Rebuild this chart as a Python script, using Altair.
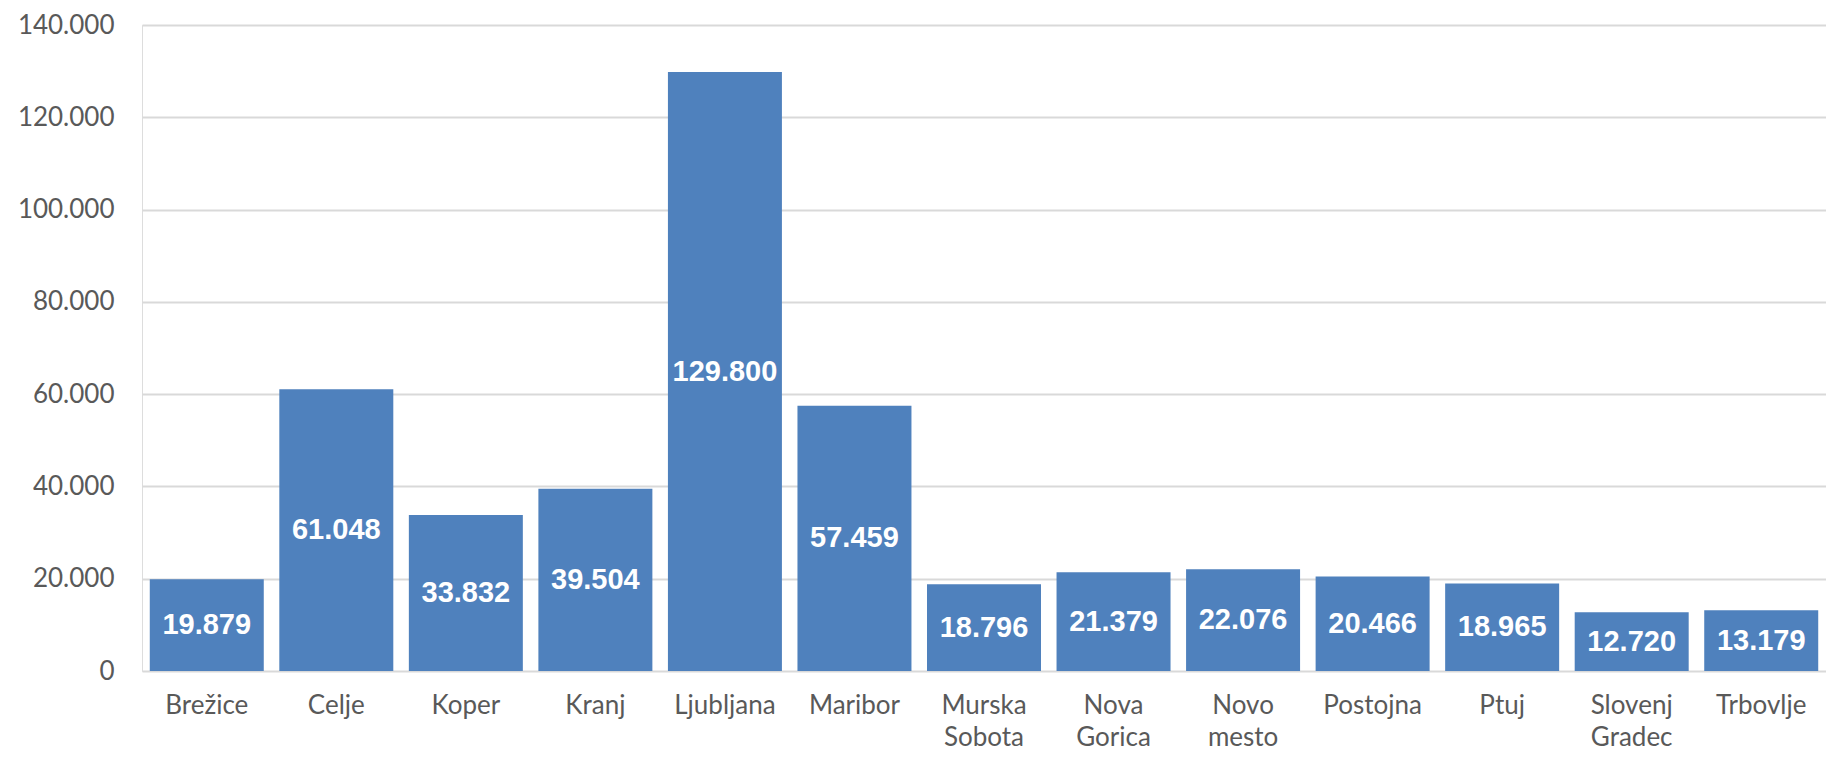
import altair as alt
import pandas as pd

cities = ["Brežice", "Celje", "Koper", "Kranj", "Ljubljana", "Maribor",
          "Murska Sobota", "Nova Gorica", "Novo mesto", "Postojna", "Ptuj",
          "Slovenj Gradec", "Trbovlje"]
values = [19879, 61048, 33832, 39504, 129800, 57459, 18796, 21379, 22076,
          20466, 18965, 12720, 13179]
y_ticks = [0, 20000, 40000, 60000, 80000, 100000, 120000, 140000]

df = pd.DataFrame({"city": cities, "value": values})

x = alt.X("city:N", sort=cities, title=None,
          scale=alt.Scale(paddingInner=0.12, paddingOuter=0.06),
          axis=alt.Axis(labelAngle=0, labelFont="Lato", labelFontSize=26,
                        labelColor="#595959", ticks=False, domain=False,
                        labelPadding=21, labelLineHeight=32,
                        labelExpr="split(datum.label, ' ')"))

base = alt.Chart(df)

bars = base.mark_bar(color="#4F81BD").encode(
    x=x,
    y=alt.Y("value:Q", title=None,
            scale=alt.Scale(domain=[0, 140000], nice=False),
            axis=alt.Axis(values=y_ticks, labelFont="Lato", labelFontSize=26,
                          labelColor="#595959", ticks=False, domain=False,
                          labelPadding=28, gridColor="#D9D9D9", gridWidth=2,
                          labelExpr="replace(format(datum.value, ','), ',', '.')")),
)

labels = base.transform_calculate(
    half="datum.value / 2",
    txt="replace(format(datum.value, ','), ',', '.')"
).mark_text(font="Liberation Sans", fontWeight="bold", fontSize=29,
            color="white", baseline="middle", align="center").encode(
    x=x,
    y=alt.Y("half:Q", scale=alt.Scale(domain=[0, 140000], nice=False)),
    text="txt:N",
)

chart = alt.layer(bars, labels).properties(
    width=1684, height=646,
    autosize=alt.AutoSizeParams(type="none"),
    padding={"left": 134, "top": 17, "right": 0, "bottom": 82},
).configure_view(stroke=None).configure(background="white")

chart.save("out.html", embed_options={"renderer": "svg", "actions": False})
